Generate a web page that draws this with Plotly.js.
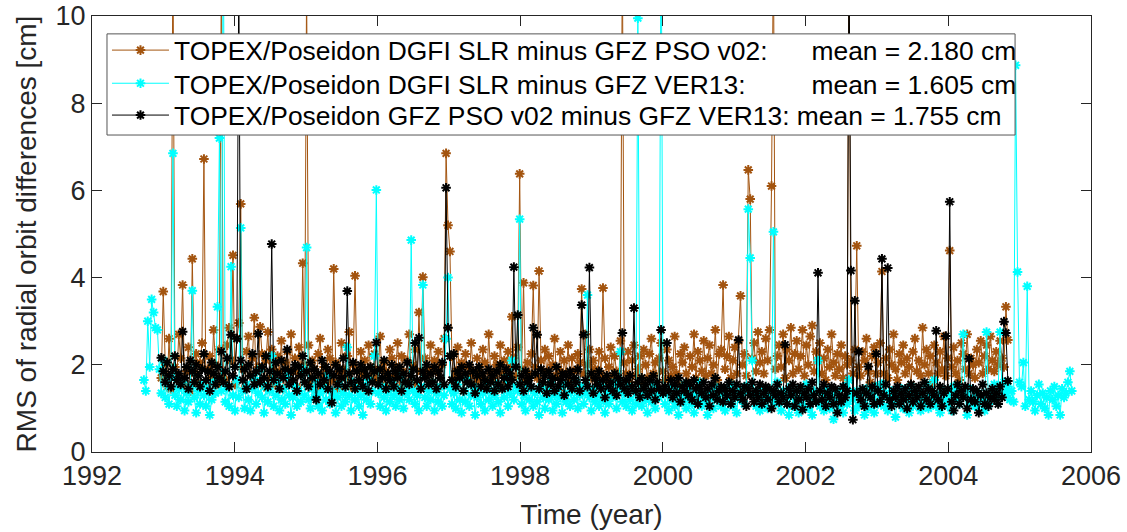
<!DOCTYPE html>
<html>
<head>
<meta charset="utf-8">
<script src="https://cdn.plot.ly/plotly-3.0.1.min.js"></script>
<style>html,body{margin:0;padding:0;background:#fff;}#chart{width:1127px;height:532px;}</style>
</head>
<body>
<div id="chart"></div>
<script>
// TOPEX/Poseidon repeat cycles (9.9156 days), cycle 1 starting at 1992.727
const cycleEpoch = 1992.727;
const cycleDays = 9.9156;

// DGFI SLR minus GFZ VER13: cycles 1..480
const cyanFirstCycle = 1;
const cyanVals = [
1.65,1.40,3.00,1.95,3.50,3.20,2.85,2.80,1.90,1.35,
2.10,1.25,1.55,1.10,1.70,6.85,1.30,1.05,1.45,1.20,
1.60,0.95,1.35,1.15,1.50,3.70,1.25,0.90,1.40,1.10,
1.55,1.30,1.05,1.45,0.85,1.20,1.60,1.35,3.33,7.20,
1.40,12.50,1.15,1.50,1.05,4.25,1.30,0.95,1.65,1.25,
5.14,1.40,1.00,1.55,1.20,0.95,1.45,1.70,1.10,1.35,
1.90,1.25,0.90,1.50,1.15,1.40,2.20,1.05,1.30,1.60,
0.95,1.20,1.45,1.10,1.75,1.30,0.85,1.25,1.50,1.05,
1.40,1.15,1.90,1.30,4.69,1.20,1.00,1.45,1.25,1.60,
1.05,1.35,0.95,1.50,1.20,1.75,1.10,1.40,1.30,0.90,
1.25,1.55,1.05,1.35,1.15,2.40,1.30,0.95,1.60,1.20,
1.45,1.05,1.30,0.85,1.50,1.20,1.65,1.10,1.40,2.20,
6.01,1.35,1.05,1.50,1.25,0.95,1.40,1.15,1.60,1.30,
1.05,1.45,1.20,1.75,1.00,1.35,1.55,1.20,4.86,1.40,
1.10,1.30,0.95,1.50,3.83,1.25,1.05,1.40,1.20,1.60,
0.95,1.35,1.15,1.50,1.05,1.30,2.60,4.00,1.45,1.10,
1.35,1.00,1.55,1.20,0.90,1.40,1.15,1.65,1.05,1.30,
1.50,0.85,1.25,1.45,1.10,1.35,0.95,1.60,1.20,1.40,
1.05,1.30,1.55,1.15,0.90,1.45,1.25,1.70,1.05,1.35,
2.10,1.20,1.50,1.40,5.34,1.10,1.30,0.95,1.55,1.20,
1.45,1.05,1.35,1.15,0.85,1.50,1.25,1.00,1.40,1.20,
1.60,0.95,1.30,1.10,1.45,1.25,0.90,1.55,1.15,1.35,
1.05,1.40,1.20,1.65,1.00,1.30,1.50,1.10,1.35,3.60,
1.25,0.95,1.45,1.15,1.30,1.05,1.55,1.20,0.90,1.40,
1.10,1.35,1.25,1.60,1.00,1.45,2.30,1.15,1.35,1.05,
1.50,1.20,0.95,1.40,1.10,9.95,1.30,1.05,1.45,1.20,
0.90,1.35,1.15,1.55,1.00,1.30,1.25,12.80,1.40,1.10,
1.35,0.95,1.50,1.20,1.05,1.40,0.85,1.30,1.15,1.55,
1.00,1.25,1.45,1.10,0.90,1.35,1.20,1.60,1.05,1.30,
1.15,0.85,1.40,1.25,1.00,1.50,1.20,1.35,1.05,1.45,
0.95,1.30,1.15,1.55,1.05,1.25,0.90,1.40,1.20,1.35,
1.10,1.50,5.57,4.45,2.10,1.30,1.05,1.40,0.95,1.25,
1.15,1.45,1.00,1.35,1.20,5.05,1.10,1.60,1.30,0.95,
1.40,1.15,1.25,0.85,1.50,1.05,1.35,1.20,0.90,1.45,
1.10,1.30,1.55,1.00,1.25,0.85,1.40,1.15,2.10,1.05,
1.35,0.95,1.20,1.45,1.00,1.30,0.75,1.15,1.40,1.05,
1.25,0.90,1.50,1.10,1.65,1.35,1.20,0.95,1.40,1.05,
1.30,1.15,0.85,1.45,1.00,1.25,1.35,0.90,1.50,1.10,
1.20,1.55,1.05,1.35,0.95,1.25,1.40,1.10,0.80,1.30,
1.15,1.45,1.00,1.35,1.20,0.90,1.50,1.05,1.30,1.15,
1.40,0.95,1.25,1.10,1.55,1.00,1.35,1.20,1.65,1.05,
1.30,0.90,1.45,1.15,1.25,1.05,1.35,0.95,1.50,1.20,
1.45,1.10,1.40,2.70,1.30,0.85,1.45,1.15,1.25,1.05,
1.05,1.35,1.20,1.20,0.95,2.75,1.10,1.30,1.30,1.55,
1.25,1.45,2.75,1.35,1.60,1.35,1.50,1.20,1.40,1.15,
8.87,4.13,1.60,1.50,2.05,1.05,3.80,1.20,1.40,1.15,
0.95,1.30,1.55,1.10,1.35,1.00,1.25,0.85,1.40,1.20,
1.50,1.05,1.30,0.85,1.45,1.25,1.35,1.60,1.85,1.40
];

// DGFI SLR minus GFZ PSO v02: cycles 10..447
const brownFirstCycle = 10;
const brownVals = [
1.70,3.68,2.05,1.50,2.60,1.45,11.80,1.95,1.65,2.70,
2.15,3.83,1.55,1.85,2.40,1.40,4.43,1.80,2.25,1.60,
2.05,2.50,6.72,1.50,1.90,2.20,1.70,2.80,2.00,1.55,
2.35,11.20,1.80,1.65,2.45,2.85,2.10,4.51,1.55,2.60,
2.96,5.69,1.90,1.45,2.30,2.65,1.75,2.15,3.08,1.60,
1.95,2.87,2.25,1.50,2.10,2.75,1.70,2.35,1.90,1.55,
2.20,1.85,2.55,1.45,2.05,2.30,1.65,2.70,1.85,2.15,
1.50,2.40,1.80,4.33,2.00,10.80,2.45,1.60,2.10,1.90,
1.40,2.25,2.60,1.75,1.95,1.55,2.35,2.15,1.65,4.20,
2.05,1.45,1.85,2.50,1.90,1.70,2.20,2.75,1.50,2.00,
4.04,1.85,1.60,2.30,1.80,2.10,1.40,2.45,1.95,1.75,
2.25,1.65,1.90,2.65,1.55,2.05,1.85,1.45,2.35,2.15,
1.70,1.95,2.50,1.50,2.20,1.85,1.60,2.10,2.70,1.65,
2.00,2.35,1.55,3.20,1.85,4.01,2.15,1.75,1.90,2.45,
1.60,2.10,1.85,2.30,1.50,2.00,2.60,6.85,5.20,4.60,
2.20,1.65,1.85,2.40,1.75,2.05,1.40,2.25,1.95,1.70,
2.50,1.85,1.55,2.15,1.90,1.65,2.35,2.05,1.50,2.70,
1.85,1.70,2.20,2.00,1.45,2.45,1.80,2.10,1.60,2.30,
1.95,3.10,2.15,1.75,2.40,6.38,1.90,3.88,1.65,2.05,
1.80,2.25,3.82,1.95,1.70,4.15,2.10,1.55,2.35,1.85,
2.20,1.60,2.00,2.60,1.75,1.90,2.30,1.50,2.10,1.80,
2.45,1.65,2.15,1.85,1.45,2.25,2.05,3.74,1.80,2.70,
2.00,2.35,1.70,2.10,1.90,1.55,2.30,1.80,3.76,2.15,
1.65,1.95,2.40,1.75,2.20,1.85,1.50,2.55,11.50,2.05,
1.80,2.30,1.60,2.10,2.45,1.75,1.90,2.20,1.55,2.35,
2.00,1.70,2.25,2.60,1.80,2.05,1.45,2.15,2.50,1.85,
1.65,2.35,2.10,1.75,1.95,2.65,1.80,1.55,2.25,2.05,
2.40,1.80,1.60,2.20,1.95,2.70,1.70,2.30,2.10,1.85,
2.55,1.75,2.15,2.45,1.80,2.00,2.80,1.65,2.25,2.35,
3.83,1.90,2.20,2.65,1.70,2.10,2.40,1.80,2.55,3.58,
2.00,2.25,1.75,6.47,5.80,2.15,2.50,1.85,2.75,2.05,
2.30,1.80,2.60,2.10,2.80,6.10,11.60,1.90,2.20,2.45,
1.95,2.70,1.70,2.35,2.10,2.85,1.80,2.25,2.55,1.90,
2.20,2.80,1.75,2.45,2.00,2.65,2.90,1.85,2.30,2.10,
2.50,1.80,2.15,1.65,2.35,1.95,2.70,2.05,1.75,2.25,
1.90,2.45,1.70,2.20,2.00,12.00,2.10,1.80,2.35,4.73,
1.95,1.75,2.30,2.10,2.60,1.85,1.60,2.20,2.40,1.80,
2.05,2.50,4.14,1.80,2.15,1.70,2.35,2.00,2.70,1.90,
1.65,2.25,2.05,2.45,1.80,2.15,1.95,1.55,2.30,2.60,
1.85,2.10,1.75,2.85,2.00,2.35,1.80,2.20,1.60,2.45,
2.05,1.80,2.30,1.90,2.65,1.75,2.15,4.62,1.95,2.40,
1.80,2.10,1.65,2.50,2.25,1.90,2.70,1.80,2.15,2.00,
1.70,2.35,2.05,2.55,1.80,2.20,2.45,1.90,2.65,2.10,
1.85,2.30,2.00,2.55,2.15,1.95,3.33,2.57
];

// GFZ PSO v02 minus GFZ VER13: cycles 10..447
const blackFirstCycle = 10;
const blackVals = [
2.16,1.85,1.60,2.05,1.75,1.50,1.90,2.20,1.65,1.80,
1.55,2.76,1.70,1.95,1.45,2.10,1.85,1.60,2.00,1.75,
1.50,1.90,2.25,1.65,1.85,1.40,2.05,1.80,1.55,1.95,
1.70,2.30,1.60,1.85,2.15,1.50,2.69,1.75,1.95,2.60,
11.00,2.10,1.65,1.90,1.45,2.00,1.75,2.25,1.55,1.85,
2.71,1.60,1.95,1.70,2.20,1.50,1.85,4.77,1.65,2.05,
1.80,1.45,2.10,1.70,1.90,2.35,1.55,1.85,1.65,2.00,
1.40,1.95,1.75,2.20,1.60,1.85,1.50,2.05,1.70,1.90,
1.20,1.80,1.55,2.10,1.65,1.95,1.45,1.85,1.13,1.75,
2.00,1.55,1.90,1.70,2.15,1.50,3.69,1.80,1.60,2.05,
1.45,1.85,1.65,2.00,1.50,1.90,1.75,1.40,1.95,1.60,
1.85,2.51,1.55,1.90,1.70,2.10,1.45,1.80,1.65,2.00,
1.50,1.85,1.70,1.95,1.40,1.80,1.60,2.05,1.55,1.75,
1.90,2.50,1.65,2.62,1.45,1.85,1.70,2.00,1.55,1.80,
1.60,1.95,1.45,1.85,1.70,2.05,1.55,6.06,2.85,2.20,
1.65,2.25,1.50,1.85,1.70,1.95,1.40,1.80,1.60,2.00,
1.55,1.85,1.35,1.75,1.95,1.50,1.80,1.65,1.45,1.90,
1.60,1.75,1.40,1.85,1.55,2.00,1.45,1.70,1.90,1.50,
1.80,1.65,4.24,1.95,3.14,1.55,1.75,1.40,1.85,1.60,
1.70,1.50,2.85,1.80,2.69,1.45,1.90,1.60,1.75,1.35,
1.85,1.55,1.70,1.40,1.95,1.50,1.65,1.80,1.30,1.75,
1.55,1.85,1.45,1.70,1.60,1.90,1.40,3.37,2.69,1.65,
1.50,4.23,1.80,1.35,1.70,1.55,1.85,1.45,1.65,1.25,
1.75,1.50,1.60,1.40,1.80,1.30,1.70,1.55,2.73,1.45,
1.65,1.35,1.75,1.50,3.30,1.40,1.60,1.25,1.70,1.45,
1.55,1.30,1.65,1.40,1.75,1.20,1.60,1.45,2.80,1.35,
1.50,2.50,1.40,1.65,1.25,1.55,1.35,1.70,1.15,1.50,
1.40,1.60,1.30,1.55,1.20,1.65,1.45,1.10,1.50,1.35,
1.60,1.25,1.45,1.05,1.55,1.30,1.70,1.20,1.40,1.50,
1.15,1.45,1.30,1.60,1.10,1.40,1.25,1.55,2.57,1.35,
1.20,1.50,1.05,1.45,1.30,1.60,1.15,1.40,1.25,1.55,
1.10,1.35,1.50,1.20,1.45,1.00,1.40,1.30,1.55,1.15,
1.35,1.25,2.46,1.10,1.45,1.30,1.55,1.05,1.40,1.20,
1.50,0.97,1.35,1.25,1.45,1.10,1.60,1.30,1.15,4.11,
1.40,1.20,1.55,1.05,1.35,1.25,1.50,1.10,1.45,0.90,
1.30,1.15,1.50,1.25,1.40,11.50,4.16,0.74,3.47,1.35,
2.30,1.20,1.45,1.05,1.35,1.96,1.25,1.50,1.10,2.25,
1.40,1.15,4.43,1.30,1.55,4.22,1.20,1.05,1.40,1.25,
1.50,1.10,1.35,1.20,1.45,1.00,1.30,1.55,1.15,1.40,
1.25,1.50,1.05,1.35,1.60,1.20,1.45,1.10,1.40,1.30,
2.78,1.20,1.50,1.05,1.35,2.66,1.45,5.74,1.15,0.95,
1.30,1.55,1.10,1.40,1.25,1.50,1.00,2.14,1.20,1.45,
1.15,1.40,0.90,1.30,1.55,1.10,1.35,1.05,1.25,1.45,
1.20,1.35,1.10,1.50,1.25,2.99,2.73,1.63
];

const seriesNames = [
  'TOPEX/Poseidon DGFI SLR minus GFZ PSO v02:\u00a0\u00a0\u00a0\u00a0\u00a0\u00a0mean = 2.180 cm',
  'TOPEX/Poseidon DGFI SLR minus GFZ VER13:\u00a0\u00a0\u00a0\u00a0\u00a0\u00a0\u00a0\u00a0\u00a0mean = 1.605 cm',
  'TOPEX/Poseidon GFZ PSO v02 minus GFZ VER13: mean = 1.755 cm'
];
const seriesColors = ['#A3540F', '#00FFFF', '#000000'];
const xTickVals = [1992, 1994, 1996, 1998, 2000, 2002, 2004, 2006];
const yTickVals = [0, 2, 4, 6, 8, 10];

function cycleTimes(first, n) {
  const t = [];
  for (let i = 0; i < n; i++) t.push(cycleEpoch + (first + i - 1) * cycleDays / 365.25);
  return t;
}

const seriesData = [
  [brownFirstCycle, brownVals],
  [cyanFirstCycle, cyanVals],
  [blackFirstCycle, blackVals]
];
const legendIds = ['legend', 'legend2', 'legend3'];
const legendRowY = [0.921, 0.845, 0.772];

const traces = seriesData.map((s, i) => ({
  type: 'scatter',
  mode: 'lines+markers',
  x: cycleTimes(s[0], s[1].length),
  y: s[1],
  name: seriesNames[i],
  legend: legendIds[i],
  line: {color: seriesColors[i], width: 1},
  marker: {symbol: 'asterisk-open', size: 8, color: seriesColors[i], line: {color: seriesColors[i], width: 2}},
  cliponaxis: true
}));

const font = 'Liberation Sans, Arial, Helvetica, sans-serif';
const axisColor = '#262626';

function legendBox(y) {
  return {
    x: 0.015, y: y, xanchor: 'left', yanchor: 'middle',
    bgcolor: 'rgba(0,0,0,0)', borderwidth: 0,
    font: {family: font, size: 26.4, color: '#000000'},
    itemwidth: 57
  };
}

const layout = {
  width: 1127, height: 532,
  margin: {l: 92, r: 36, t: 16, b: 80, pad: 0},
  paper_bgcolor: '#ffffff', plot_bgcolor: '#ffffff',
  font: {family: font, color: axisColor},
  showlegend: true,
  legend: legendBox(legendRowY[0]),
  legend2: legendBox(legendRowY[1]),
  legend3: legendBox(legendRowY[2]),
  shapes: [{
    type: 'rect', xref: 'paper', yref: 'paper',
    x0: 0.015, x1: 0.924, y0: 0.727, y1: 0.959,
    fillcolor: '#ffffff', line: {color: '#555555', width: 1}, layer: 'above'
  }],
  xaxis: {
    range: [1992, 2006], tickvals: xTickVals, ticktext: xTickVals.map(String),
    ticks: 'inside', ticklen: 10, tickwidth: 1, tickcolor: axisColor,
    showline: true, linecolor: axisColor, linewidth: 1, mirror: 'ticks',
    showgrid: false, zeroline: false,
    tickfont: {family: font, size: 27, color: axisColor},
    title: {text: 'Time (year)', font: {family: font, size: 28, color: axisColor}, standoff: 13}
  },
  yaxis: {
    range: [0, 10], tickvals: yTickVals, ticktext: yTickVals.map(String),
    ticks: 'inside', ticklen: 10, tickwidth: 1, tickcolor: axisColor,
    showline: true, linecolor: axisColor, linewidth: 1, mirror: 'ticks',
    showgrid: false, zeroline: false,
    tickfont: {family: font, size: 27, color: axisColor},
    title: {text: 'RMS of radial orbit differences [cm]', font: {family: font, size: 28, color: axisColor}, standoff: 10}
  }
};

Plotly.newPlot('chart', traces, layout, {staticPlot: true, displayModeBar: false});
</script>
</body>
</html>
